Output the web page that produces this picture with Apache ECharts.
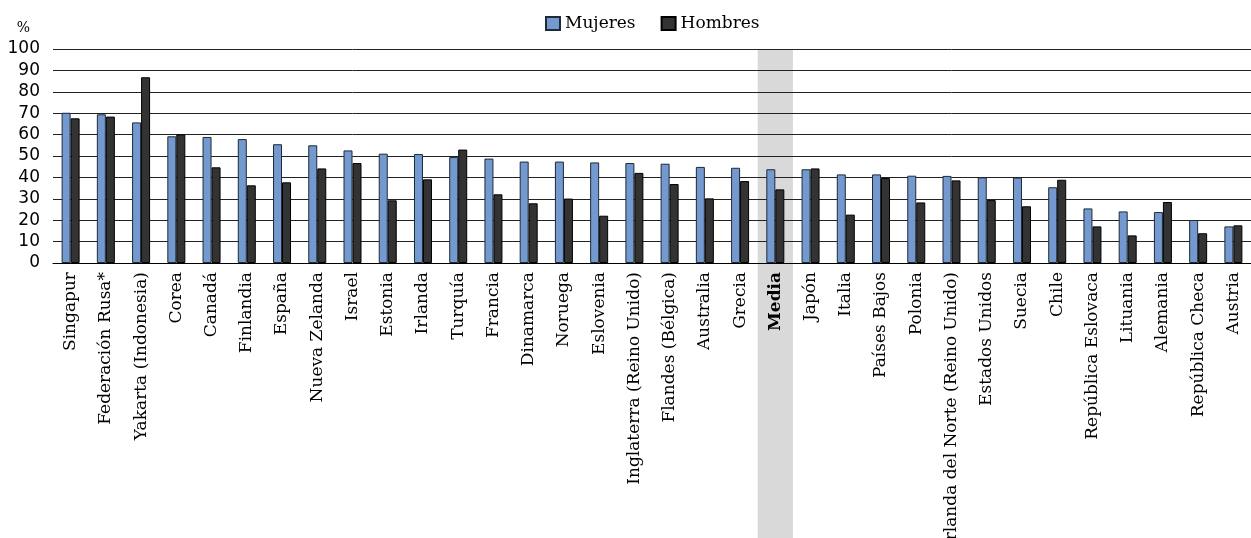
<!DOCTYPE html>
<html>
<head>
<meta charset="utf-8">
<script src="https://cdn.jsdelivr.net/npm/echarts@6/dist/echarts.min.js"></script>
<style>
html, body { margin: 0; padding: 0; background: #fff; }
#chart { width: 1251px; height: 538px; }
</style>
</head>
<body>
<div id="chart"></div>
<script>
var categories = ['Singapur', 'Federación Rusa*', 'Yakarta (Indonesia)', 'Corea', 'Canadá', 'Finlandia',
    'España', 'Nueva Zelanda', 'Israel', 'Estonia', 'Irlanda', 'Turquía', 'Francia', 'Dinamarca',
    'Noruega', 'Eslovenia', 'Inglaterra (Reino Unido)', 'Flandes (Bélgica)', 'Australia', 'Grecia',
    'Media', 'Japón', 'Italia', 'Países Bajos', 'Polonia', 'Irlanda del Norte (Reino Unido)',
    'Estados Unidos', 'Suecia', 'Chile', 'República Eslovaca', 'Lituania', 'Alemania',
    'República Checa', 'Austria'];
var mujeres = [70.2, 69.5, 65.7, 59.2, 58.9, 57.9, 55.5, 55.0, 52.6, 51.1, 50.9, 49.5, 48.8, 47.4,
    47.4, 47.0, 46.7, 46.4, 44.9, 44.5, 43.8, 43.8, 41.4, 41.4, 40.8, 40.7, 40.0, 39.9, 35.4,
    25.5, 24.1, 23.8, 20.1, 17.1];
var hombres = [67.6, 68.4, 86.8, 60.1, 44.7, 36.3, 37.7, 44.2, 46.7, 29.3, 39.1, 53.0, 32.1, 27.9,
    30.1, 22.1, 42.1, 36.9, 30.2, 38.3, 34.4, 44.2, 22.6, 39.7, 28.3, 38.6, 29.4, 26.5, 38.9,
    17.1, 12.9, 28.5, 13.9, 17.6];
var yTicks = [0, 10, 20, 30, 40, 50, 60, 70, 80, 90, 100];
var highlight = 'Media';

var myChart = echarts.init(document.getElementById('chart'));
var option = {
    animation: false,
    legend: {
        top: 10,
        left: 540,
        icon: 'rect',
        itemWidth: 14,
        itemHeight: 13,
        itemGap: 25,
        textStyle: { fontFamily: 'DejaVu Serif', fontSize: 17, color: '#000' },
        data: ['Mujeres', 'Hombres']
    },
    grid: { left: 53, right: 0, top: 49, bottom: 275, containLabel: false, outerBoundsMode: 'none' },
    xAxis: {
        type: 'category',
        data: categories,
        axisLine: { lineStyle: { color: '#000', width: 1 } },
        axisTick: { show: false },
        axisLabel: {
            rotate: 90,
            interval: 0,
            margin: 9,
            fontFamily: 'DejaVu Serif',
            fontSize: 17,
            color: '#000',
            formatter: function(v) {
                return v === highlight ? '{b|' + v + '}' : v;
            },
            rich: {
                b: { fontWeight: 'bold', fontFamily: 'DejaVu Serif', fontSize: 17, color: '#000' }
            }
        }
    },
    yAxis: {
        type: 'value',
        min: yTicks[0],
        max: yTicks[yTicks.length - 1],
        interval: 10,
        name: '%',
        nameGap: 14,
        nameTextStyle: { fontFamily: 'DejaVu Serif', fontSize: 14, color: '#000', align: 'right', padding: [0, 23, 0, 0] },
        axisLine: { show: false },
        axisTick: { show: false },
        axisLabel: { fontFamily: 'DejaVu Sans', fontSize: 17, color: '#000', margin: 13 },
        splitLine: { lineStyle: { color: '#222', width: 1 } }
    },
    series: [
        {
            name: 'Mujeres',
            type: 'bar',
            data: mujeres,
            barWidth: 9,
            barGap: '0%',
            itemStyle: { color: '#7399cf', borderColor: '#1f2a38', borderWidth: 1 }
        },
        {
            name: 'Hombres',
            type: 'bar',
            data: hombres,
            barWidth: 9,
            itemStyle: { color: '#333333', borderColor: '#000', borderWidth: 1 }
        }
    ]
};
myChart.setOption(option);

// gray band behind the average column, placed through the category scale
var cx = myChart.convertToPixel({ xAxisIndex: 0 }, highlight);
var bw = (1251 - 53) / categories.length;
myChart.setOption({
    graphic: [{
        type: 'rect',
        z: -10,
        shape: { x: cx - bw / 2, y: 49, width: bw, height: 538 - 49 },
        style: { fill: '#d9d9d9' }
    }]
});
</script>
</body>
</html>
